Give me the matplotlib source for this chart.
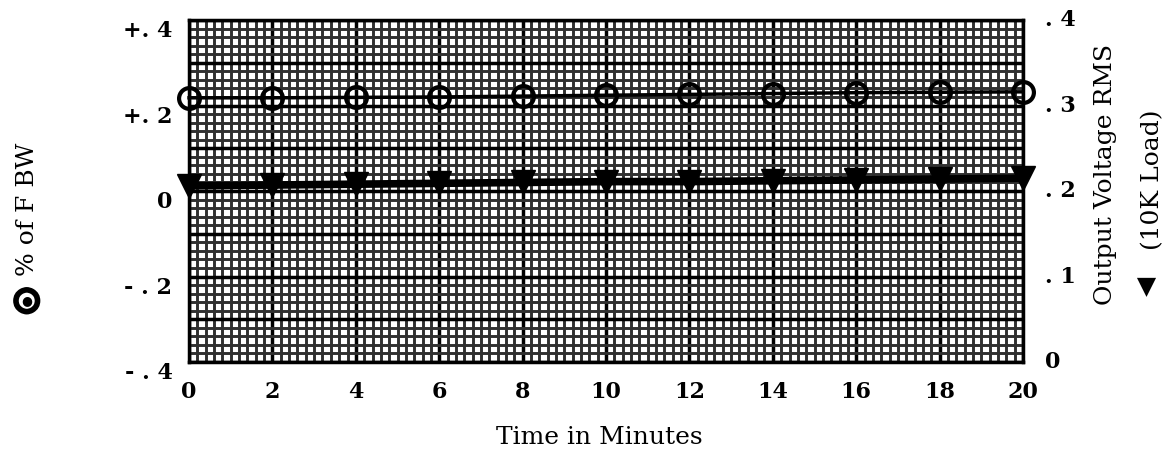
import matplotlib
matplotlib.use("Agg")
import matplotlib.pyplot as plt
import matplotlib.patheffects as pe
from matplotlib.ticker import MultipleLocator

# values
time_min = [0, 2, 4, 6, 8, 10, 12, 14, 16, 18, 20]
fbw_pct = [0.218, 0.218, 0.219, 0.220, 0.222, 0.224, 0.226, 0.228, 0.230, 0.231, 0.232]
vout_rms = [0.206, 0.207, 0.208, 0.209, 0.210, 0.211, 0.211, 0.212, 0.213, 0.214, 0.215]

left_ticks = [0.4, 0.2, 0.0, -0.2, -0.4]
left_labels = ["+. 4", "+. 2", "0", "- . 2", "- . 4"]
right_ticks = [0.4, 0.3, 0.2, 0.1, 0.0]
right_labels = [". 4", ". 3", ". 2", ". 1", "0"]
x_ticks = [0, 2, 4, 6, 8, 10, 12, 14, 16, 18, 20]
x_labels = ["0", "2", "4", "6", "8", "10", "12", "14", "16", "18", "20"]

serif = ["DejaVu Serif", "DejaVu Sans"]
plt.rcParams["font.family"] = serif

fig = plt.figure(figsize=(11.62, 4.59), dpi=100)
ax = fig.add_axes([0.1627, 0.2113, 0.7177, 0.7451])
ax.set_xlim(0, 20)
ax.set_ylim(-0.4, 0.4)

# graph paper grid
ax.xaxis.set_major_locator(MultipleLocator(2))
ax.xaxis.set_minor_locator(MultipleLocator(0.2))
ax.yaxis.set_major_locator(MultipleLocator(0.1))
ax.yaxis.set_minor_locator(MultipleLocator(0.02))
ax.grid(which="minor", color="#303030", linewidth=2.1)
ax.grid(which="major", color="black", linewidth=2.5)
ax.set_axisbelow(True)
ax.tick_params(which="both", length=0, labelbottom=False, labelleft=False)
for sp in ax.spines.values():
    sp.set_linewidth(2.5)

ax.plot(time_min, fbw_pct, color="black", linewidth=2.5, marker="o",
        markersize=15, markerfacecolor="none", markeredgewidth=3,
        clip_on=False, zorder=5)

ax2 = ax.twinx()
ax2.set_ylim(0, 0.4)
ax2.tick_params(length=0, labelright=False)
for sp in ax2.spines.values():
    sp.set_visible(False)
ax2.plot(time_min, vout_rms, color="black", linewidth=5.5, marker="v",
         markersize=17, clip_on=False, zorder=5)

# tick labels as text, offset like the original print
tfs = 16
for v, s in zip(left_ticks, left_labels):
    ax.text(-0.02, v, s, transform=ax.get_yaxis_transform(), ha="right",
            va="top", fontsize=tfs, fontweight="bold")
for v, s in zip(right_ticks, right_labels):
    ax2.text(1.026, v, s, transform=ax2.get_yaxis_transform(), ha="left",
             va="center", fontsize=tfs, fontweight="bold")
for v, s in zip(x_ticks, x_labels):
    ax.text(v, -0.088, s, transform=ax.get_xaxis_transform(), ha="center",
            va="center", fontsize=tfs, fontweight="bold")

fig.text(0.516, 0.046, "Time in Minutes", ha="center", va="center",
         fontsize=18)
# left axis title with the circled-dot key symbol (bold ring + dot)
fig.text(0.023, 0.346, "\u25cb", ha="center", va="center",
         fontsize=22, family=["DejaVu Sans"],
         path_effects=[pe.withStroke(linewidth=2.8, foreground="black")])
fig.text(0.023, 0.346, "\u25cf", ha="center", va="center",
         fontsize=9, family=["DejaVu Sans"])
fig.text(0.024, 0.545, "% of F BW", rotation=90, ha="center",
         va="center", fontsize=18)
# right axis title with the triangle key symbol
fig.text(0.951, 0.62, "Output Voltage RMS", rotation=90, ha="center",
         va="center", fontsize=18)
fig.text(0.987, 0.375, "\u25c0", rotation=90, ha="center", va="center",
         fontsize=18, family=["DejaVu Sans"])
fig.text(0.992, 0.608, "(10K Load)", rotation=90, ha="center",
         va="center", fontsize=18)

fig.savefig("out.png", dpi=100)
